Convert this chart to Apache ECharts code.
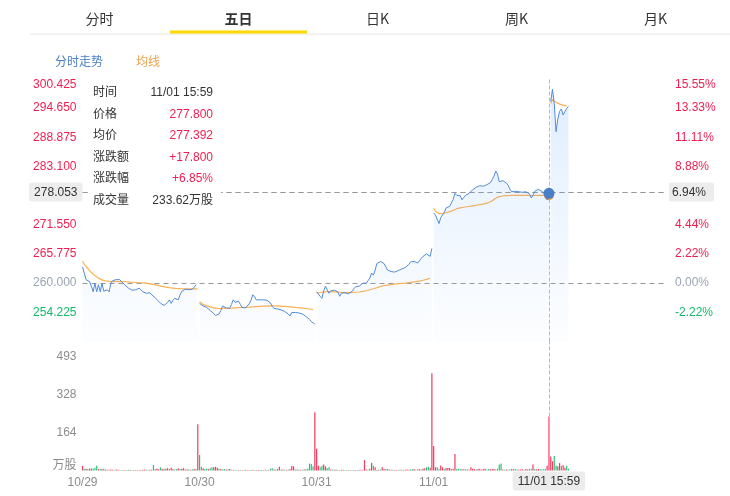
<!DOCTYPE html>
<html>
<head>
<meta charset="utf-8">
<script src="https://cdn.jsdelivr.net/npm/echarts@6/dist/echarts.min.js"></script>
<style>
html,body{margin:0;padding:0;background:#fff;}
#main{width:730px;height:496px;}
</style>
</head>
<body>
<div id="main"></div>
<script>
// ---------------- data ----------------
const tabs = ['分时', '五日', '日K', '周K', '月K'];
const activeTab = 1;
const days = ['10/29', '10/30', '10/31', '11/01', '11/02'];
const prevClose = 260;
const priceMin = 248.45, priceMax = 300.425;
const priceTicks = [254.225, 260, 265.775, 271.55, 277.325, 283.1, 288.875, 294.65, 300.425];
const volMax = 557;
const volTicks = [0, 164.333, 328.667, 493];
const volTickLabels = ['万股', '164', '328', '493'];
const pointerTime = '11/01 15:59';
const pointerPrice = 278.053;

const price1029 = [263.2,262.0,260.7,260.5,260.3,259.4,258.3,260.0,258.3,259.7,258.3,260.0,258.4,258.6,258.7,258.3,260.0,260.5,260.6,260.7,260.6,260.7,260.3,260.0,259.6,259.3,259.0,258.7,258.6,258.5,258.7,258.9,259.0,258.7,258.3,258.2,258.0,258.2,258.1,257.7,257.4,257.1,256.8,256.4,256.0,255.7,255.6,255.7,256.2,256.7,256.0,256.6,257.0,256.7,256.7,257.7,258.4,258.7,258.8,258.6,258.7,258.6,258.8,259.2,259.7,260.0];
const avg1029 = [264.4,263.8,263.3,262.9,262.5,262.1,261.8,261.5,261.2,261.0,260.8,260.65,260.55,260.45,260.4,260.35,260.3,260.3,260.3,260.3,260.3,260.3,260.3,260.3,260.3,260.28,260.25,260.22,260.2,260.18,260.15,260.12,260.1,260.08,260.05,260.0,259.95,259.9,259.85,259.8,259.72,259.65,259.58,259.5,259.42,259.35,259.28,259.22,259.16,259.1,259.05,259.0,258.97,258.94,258.92,258.9,258.88,258.87,258.87,258.87,258.87,258.87,258.87,258.87,258.87,258.87];
const price1030 = [256.0,255.8,255.5,255.4,255.2,254.9,254.6,254.4,254.0,253.6,253.4,253.9,254.6,255.5,255.4,255.1,255.0,255.0,255.8,256.7,256.2,256.1,256.4,255.8,255.2,255.0,255.1,255.1,255.9,256.6,257.7,257.3,256.7,256.7,256.7,256.6,256.7,256.7,256.6,256.4,256.1,255.4,255.0,255.0,254.9,254.7,254.7,254.6,254.4,254.3,253.9,253.5,254.2,254.4,254.2,254.2,254.1,254.0,253.9,253.7,253.4,253.2,252.8,252.4,252.1,251.9];
const avg1030 = [256.3,256.0,255.8,255.6,255.5,255.4,255.3,255.2,255.1,255.05,255.0,254.98,254.97,254.98,255.0,255.02,255.03,255.05,255.07,255.1,255.12,255.14,255.16,255.17,255.18,255.2,255.21,255.22,255.24,255.27,255.3,255.33,255.36,255.38,255.4,255.42,255.44,255.46,255.47,255.48,255.49,255.5,255.5,255.5,255.49,255.47,255.45,255.43,255.4,255.37,255.34,255.3,255.27,255.24,255.2,255.17,255.14,255.1,255.06,255.02,254.98,254.93,254.88,254.82,254.76,254.7];
const price1031 = [258.3,258.5,257.4,257.0,258.5,259.4,259.2,258.0,258.5,258.7,258.6,258.7,258.3,257.4,258.0,258.0,258.1,258.0,257.9,258.2,258.4,258.9,259.3,259.6,259.4,259.3,260.0,260.3,260.0,260.5,261.0,262.0,261.6,262.6,263.9,264.2,264.3,264.0,263.9,263.6,262.6,262.3,262.3,262.1,262.2,262.3,262.5,262.6,262.8,263.0,263.1,263.3,263.7,264.2,264.4,264.3,264.3,264.0,263.7,264.9,265.3,265.6,265.8,265.9,265.3,266.9];
const avg1031 = [258.0,258.1,258.15,258.2,258.25,258.3,258.33,258.34,258.33,258.3,258.27,258.24,258.2,258.18,258.16,258.15,258.14,258.14,258.14,258.15,258.16,258.18,258.2,258.22,258.25,258.3,258.36,258.43,258.5,258.6,258.7,258.8,258.9,259.0,259.12,259.25,259.35,259.43,259.5,259.56,259.62,259.67,259.72,259.76,259.8,259.84,259.88,259.91,259.95,259.98,260.02,260.06,260.1,260.15,260.2,260.25,260.3,260.36,260.42,260.5,260.58,260.67,260.76,260.86,260.98,261.1];
const price1101 = [273.9,273.5,273.2,271.8,273.0,273.5,274.0,274.9,274.6,275.2,275.5,276.6,277.8,277.4,277.1,277.3,276.5,277.0,277.4,277.6,277.8,278.1,278.5,278.8,279.0,279.2,279.3,279.2,279.2,279.3,279.5,279.7,279.9,280.5,281.2,282.2,281.6,280.1,280.4,280.3,280.1,279.8,279.4,278.6,278.1,278.0,278.2,278.3,278.1,278.2,278.0,278.0,278.1,278.1,277.7,276.9,277.4,278.2,278.5,278.6,278.4,278.2,278.0,277.6,276.5,277.8];
const avg1101 = [274.8,274.3,274.0,273.75,273.7,273.75,273.85,273.95,274.05,274.15,274.25,274.4,274.6,274.75,274.85,274.92,274.98,275.03,275.08,275.13,275.18,275.24,275.3,275.36,275.42,275.48,275.54,275.6,275.66,275.74,275.84,275.96,276.1,276.3,276.55,276.8,277.0,277.12,277.2,277.26,277.3,277.33,277.35,277.36,277.37,277.37,277.37,277.37,277.37,277.37,277.37,277.37,277.37,277.37,277.36,277.35,277.35,277.36,277.37,277.38,277.39,277.39,277.39,277.39,277.39,277.392];
const price1102 = [296.0,298.4,295.5,290.0,292.5,294.0,294.5,293.3,294.0,294.6,295.0];
const avg1102 = [295.6,296.3,296.0,295.8,295.6,295.45,295.35,295.25,295.15,295.05,294.98];

const vol1029 = [20,8,8,6,8,9,8,12,20,6,8,7,8,4,3,3,4,3,2,4,3,2,2,2,2,2,3,2,2,2,2,2,2,2,3,4,3,2,3,3,24,6,8,5,14,6,8,8,10,6,12,5,4,6,10,6,8,10,4,5,4,3,5,6,7,200];
const dir1029 = 'rgrgrrgggr' + 'grgrgrrrgr' + 'rggrrggrgr' + 'rgrrrrgrrr' + 'ggrrgrgrrg' + 'rrggrgrrgr' + 'grgrgr';
const vol1030 = [67,16,10,6,8,6,10,14,14,16,12,8,6,4,6,4,5,6,3,2,2,2,2,2,2,2,3,2,2,2,3,2,2,2,2,2,2,3,2,2,8,10,4,4,6,16,4,4,3,3,3,6,19,18,4,4,3,3,3,4,5,8,30,28,18,251];
const dir1030 = 'ggrggrggrr' + 'rgrggrgrgr' + 'ggrgrgrgrg' + 'rgrrgrgrgr' + 'ggrgrrgrgr' + 'grrrgrgrgr' + 'gggggr';
const vol1031 = [94,20,14,20,26,18,10,14,4,4,3,4,2,2,3,3,2,2,2,2,2,2,2,2,3,3,2,45,4,3,8,33,20,14,3,3,4,14,6,5,6,4,3,3,2,2,2,3,3,2,3,4,3,4,5,6,3,4,6,4,8,10,14,16,12,420];
const dir1031 = 'rrggrrggrg' + 'rgrgrrgrgr' + 'grrggrrrrg' + 'rrgrgrgrrg' + 'rgrgrrgrgr' + 'rrrggrgrrg' + 'rrggrr';
const vol1101 = [106,14,14,6,22,14,6,11,11,11,6,8,71,6,8,5,5,5,4,5,3,14,8,6,4,8,6,4,6,8,4,6,5,7,6,4,8,26,30,4,3,4,3,4,6,5,6,4,3,4,5,3,6,4,6,8,26,6,5,6,6,4,5,6,20,233.62];
const dir1101 = 'rrggrrgrrr' + 'grrgggrgrg' + 'rrrrgrrgrr' + 'ggrrrggggr' + 'grggrrggrr' + 'rgrrggrgrr' + 'ggggrr';
const vol1102 = [60,40,63,20,18,32,19,24,12,20,8];
const dir1102 = 'rrggrrgrrgg';

const priceDays = [price1029, price1030, price1031, price1101, price1102];
const avgDays = [avg1029, avg1030, avg1031, avg1101, avg1102];
const volDays = [vol1029, vol1030, vol1031, vol1101, vol1102];
const dirDays = [dir1029, dir1030, dir1031, dir1101, dir1102];

// ---------------- categories (5-minute slots, HK session) ----------------
function hm(m) { const h = Math.floor(m / 60), mm = m % 60; return (h < 10 ? '0' : '') + h + ':' + (mm < 10 ? '0' : '') + mm; }
const slotTimes = [];
for (let m = 9 * 60 + 34; m <= 11 * 60 + 59; m += 5) slotTimes.push(hm(m));
for (let m = 13 * 60 + 4; m <= 15 * 60 + 59; m += 5) slotTimes.push(hm(m));
const perDay = slotTimes.length;
const categories = [];
days.forEach(d => slotTimes.forEach(t => categories.push(d + ' ' + t)));

// ---------------- styles ----------------
const FONT = '"Liberation Sans", Arial, "Noto Sans CJK SC", sans-serif';
const RED = '#f01e50', GREEN = '#13b86a', ZERO = '#9aa5b6', GREY = '#8c8c8c';
const BLUE = '#4a7ec6', ORANGE = '#f0a04b';
const VRED = '#f23a5f', VGREEN = '#2fbf7b';
function priceColor(v) { v = parseFloat(v); if (v > prevClose + 1e-6) return RED; if (v < prevClose - 1e-6) return GREEN; return ZERO; }
function pct(v) { return ((v - prevClose) / prevClose * 100).toFixed(2) + '%'; }
function isMax(v) { return Math.abs(parseFloat(v) - priceMax) < 1e-6; }

function spread(day, arr) {
  const out = new Array(categories.length).fill(null);
  arr.forEach((v, j) => { out[day * perDay + j] = v; });
  return out;
}

const areaGrad = new echarts.graphic.LinearGradient(0, 79, 0, 341.5, [
  { offset: 0, color: 'rgba(70,140,230,0.25)' },
  { offset: 1, color: 'rgba(70,140,230,0.02)' }
], true);

const series = [];
avgDays.forEach((arr, d) => {
  series.push({
    name: '均线', type: 'line', xAxisIndex: 0, yAxisIndex: 0, z: 59,
    data: spread(d, arr), showSymbol: false, symbol: 'circle', symbolSize: 10,
    lineStyle: { color: ORANGE, width: 1.2 }, itemStyle: { color: ORANGE, borderWidth: 0 },
    emphasis: { scale: false, lineStyle: { width: 1.2 }, itemStyle: { borderWidth: 0 } }
  });
});
priceDays.forEach((arr, d) => {
  const s = {
    name: '分时走势', type: 'line', xAxisIndex: 0, yAxisIndex: 0, z: 60,
    data: spread(d, arr), showSymbol: false, symbol: 'circle', symbolSize: 11,
    lineStyle: { color: BLUE, width: 1 }, itemStyle: { color: BLUE, borderWidth: 0 },
    areaStyle: { color: areaGrad },
    emphasis: { scale: false, lineStyle: { width: 1 }, itemStyle: { borderWidth: 0 } }
  };
  if (d === 0) {
    s.markLine = { silent: true, symbol: 'none', label: { show: false },
      lineStyle: { color: '#999', type: [5, 4], width: 1 }, data: [{ yAxis: prevClose }] };
  }
  series.push(s);
});
const volData = new Array(categories.length).fill(null);
volDays.forEach((arr, d) => arr.forEach((v, j) => {
  volData[d * perDay + j] = { value: v, itemStyle: { color: dirDays[d][j] === 'r' ? VRED : VGREEN } };
}));
series.push({ name: '成交量', type: 'bar', xAxisIndex: 1, yAxisIndex: 2, data: volData, barWidth: 1.2, silent: true });

// ---------------- graphic: tabs ----------------
const graphic = [];
const tabW = 139, tabX0 = 30;
tabs.forEach((t, i) => {
  graphic.push({ type: 'text', x: tabX0 + tabW * i + tabW / 2, y: 18.5, silent: true,
    style: { text: t, fill: '#333', font: (i === activeTab ? 'bold ' : '') + '14px "Noto Sans CJK SC", sans-serif',
      align: 'center', verticalAlign: 'middle', textAlign: 'center', textVerticalAlign: 'middle' } });
});
graphic.push({ type: 'rect', silent: true, shape: { x: tabX0, y: 33.5, width: 700, height: 1.5 }, style: { fill: '#eeeeee' } });
graphic.push({ type: 'rect', silent: true, shape: { x: tabX0 + tabW * activeTab + 1, y: 30.5, width: tabW - 2, height: 3 }, style: { fill: '#ffd800' } });

// ---------------- tooltip ----------------
function row(label, value, color) {
  return '<div style="display:flex;justify-content:space-between;height:21.5px;line-height:21.5px;">' +
    '<span style="color:#333">' + label + '</span><span style="color:' + color + '">' + value + '</span></div>';
}
function tipFormatter(params) {
  const idx = params[0].dataIndex;
  const d = Math.floor(idx / perDay), j = idx % perDay;
  const p = priceDays[d][j], a = avgDays[d][j], v = volDays[d][j];
  const chg = p - prevClose;
  const c = priceColor(p), ca = priceColor(a);
  return '<div style="width:120px;font-family:' + FONT.replace(/"/g, "'") + ';font-size:12px;">' +
    row('时间', categories[idx], '#333') +
    row('价格', p.toFixed(3), c) +
    row('均价', a.toFixed(3), ca) +
    row('涨跌额', (chg >= 0 ? '+' : '') + chg.toFixed(3), c) +
    row('涨跌幅', (chg >= 0 ? '+' : '') + (chg / prevClose * 100).toFixed(2) + '%', c) +
    row('成交量', v.toFixed(2) + '万股', '#333') + '</div>';
}

const option = {
  animation: false,
  textStyle: { fontFamily: FONT },
  graphic: graphic,
  legend: {
    left: 45, top: 50, icon: 'none', itemWidth: 0, itemHeight: 12, itemGap: 28, selectedMode: false,
    textStyle: { fontSize: 12, fontFamily: '"Noto Sans CJK SC", sans-serif' },
    data: [{ name: '分时走势', textStyle: { color: BLUE } }, { name: '均线', textStyle: { color: ORANGE } }]
  },
  axisPointer: { link: [{ xAxisIndex: 'all' }] },
  tooltip: {
    trigger: 'axis', triggerOn: 'none', alwaysShowContent: true, transitionDuration: 0,
    position: [88, 81.5], backgroundColor: '#fff', borderWidth: 0, padding: [0, 8, 0, 5],
    extraCssText: 'box-shadow:none;border-radius:0;',
    axisPointer: { type: 'cross', crossStyle: { color: '#999', type: [5, 4], width: 1 } },
    formatter: tipFormatter
  },
  grid: [
    { left: 82.5, right: 64, top: 79, height: 262.5 },
    { left: 82.5, right: 64, top: 341.5, height: 129 }
  ],
  xAxis: [
    { type: 'category', gridIndex: 0, data: categories, boundaryGap: false,
      axisLine: { show: false }, axisTick: { show: false }, axisLabel: { show: false }, splitLine: { show: false },
      axisPointer: { label: { show: false } } },
    { type: 'category', gridIndex: 1, data: categories, boundaryGap: false,
      axisLine: { show: false }, axisTick: { show: false }, splitLine: { show: false },
      axisLabel: { interval: (i) => i % perDay === 0, formatter: (v) => v.split(' ')[0], color: GREY, fontSize: 12, margin: 6 },
      axisPointer: { label: { show: true, backgroundColor: '#ececec', color: '#333', fontSize: 12, padding: [4, 5, 3, 5], margin: 1 } } }
  ],
  yAxis: [
    { type: 'value', gridIndex: 0, position: 'left', min: priceMin, max: priceMax, scale: true,
      axisLine: { show: false }, axisTick: { show: false }, splitLine: { show: false },
      axisLabel: { customValues: priceTicks, fontSize: 12, margin: 6, color: priceColor,
        formatter: (v) => isMax(v) ? '{top|' + v.toFixed(3) + '}' : v.toFixed(3),
        rich: { top: { padding: [11, 0, 0, 0], color: RED, fontSize: 12 } } },
      axisPointer: { label: { backgroundColor: '#ececec', color: '#333', fontSize: 12, padding: [4, 5, 3, 5], margin: 0,
        formatter: (p) => Number(p.value).toFixed(3) } } },
    { type: 'value', gridIndex: 0, position: 'right', min: priceMin, max: priceMax, scale: true,
      axisLine: { show: false }, axisTick: { show: false }, splitLine: { show: false },
      axisLabel: { customValues: priceTicks, fontSize: 12, margin: 9, color: priceColor,
        formatter: (v) => isMax(v) ? '{top|' + pct(v) + '}' : pct(v),
        rich: { top: { padding: [11, 0, 0, 0], color: RED, fontSize: 12 } } },
      axisPointer: { label: { backgroundColor: '#ececec', color: '#333', fontSize: 12, padding: [4, 8, 3, 3], margin: 3,
        formatter: (p) => pct(Number(p.value)) } } },
    { type: 'value', gridIndex: 1, min: 0, max: volMax,
      axisLine: { show: false }, axisTick: { show: false }, splitLine: { show: false },
      axisLabel: { customValues: volTicks, fontSize: 12, margin: 6, color: GREY,
        formatter: (v) => {
          const k = volTicks.findIndex(t => Math.abs(t - v) < 0.01);
          const s = k >= 0 ? volTickLabels[k] : String(Math.round(v));
          return k === 0 ? '{unit|' + s + '}' : s;
        },
        rich: { unit: { padding: [0, 0, 13, 0], color: GREY, fontSize: 12, fontFamily: '"Noto Sans CJK SC", sans-serif' } } },
      axisPointer: { show: false } }
  ],
  series: series
};

const chart = echarts.init(document.getElementById('main'));
chart.setOption(option);
const px = chart.convertToPixel({ xAxisIndex: 0 }, pointerTime);
const py = chart.convertToPixel({ yAxisIndex: 0 }, pointerPrice);
chart.dispatchAction({ type: 'showTip', x: px, y: py });
</script>
</body>
</html>
